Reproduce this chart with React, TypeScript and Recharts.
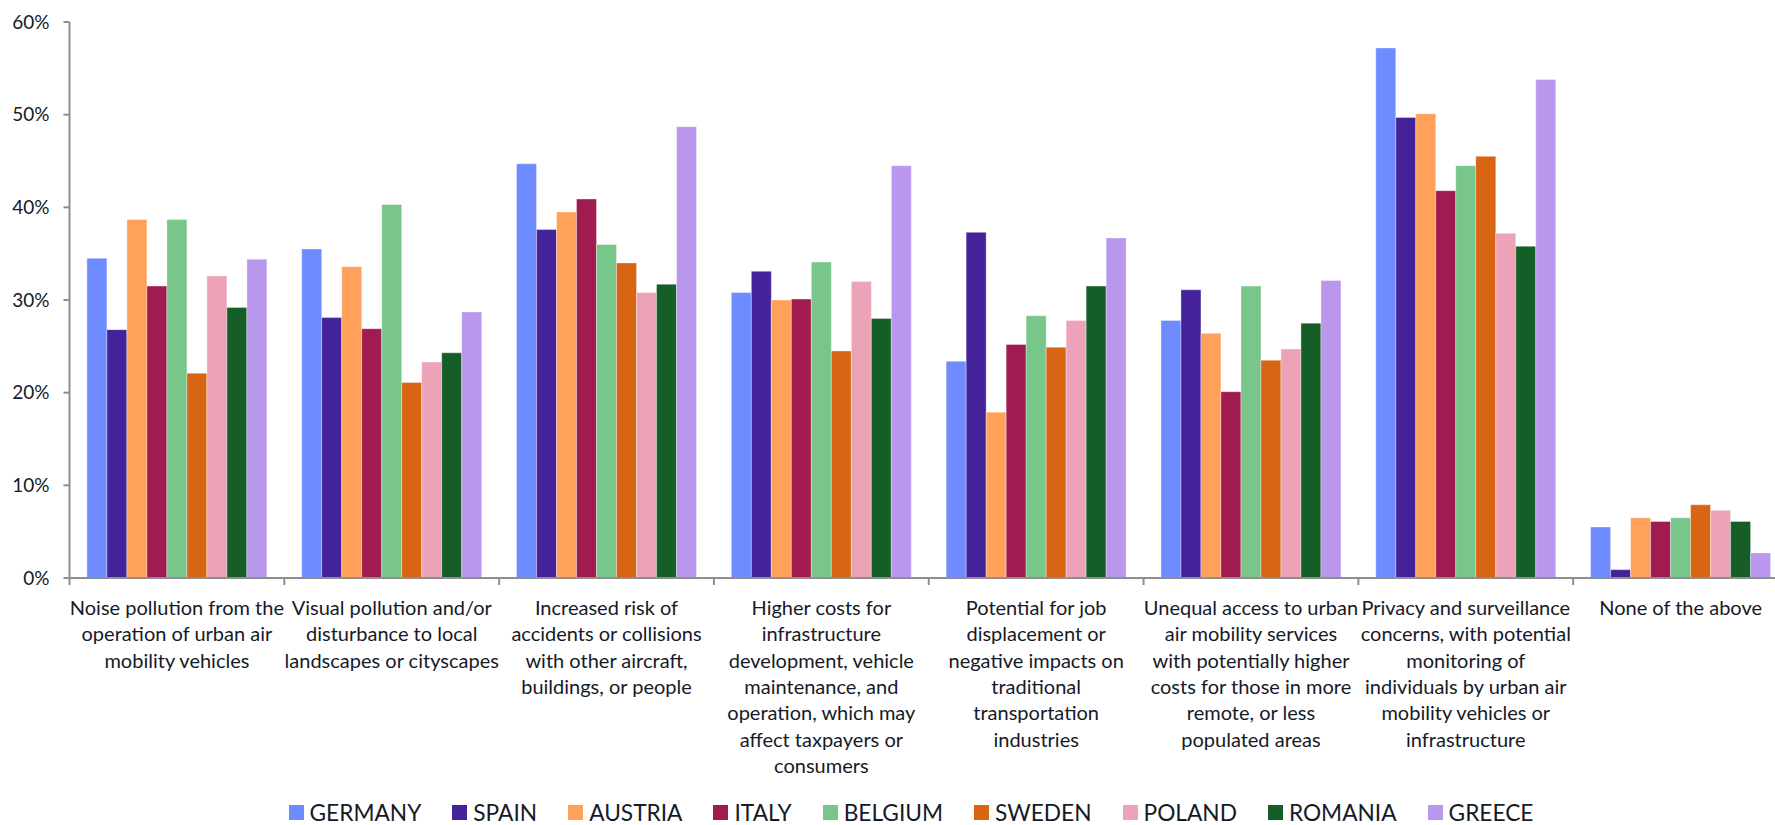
import React from "react";
import { BarChart, Bar, XAxis, YAxis } from "recharts";

// Survey answers (share of respondents, %) per concern, one list per country
const categories = [
  "Noise pollution from the\noperation of urban air\nmobility vehicles",
  "Visual pollution and/or\ndisturbance to local\nlandscapes or cityscapes",
  "Increased risk of\naccidents or collisions\nwith other aircraft,\nbuildings, or people",
  "Higher costs for\ninfrastructure\ndevelopment, vehicle\nmaintenance, and\noperation, which may\naffect taxpayers or\nconsumers",
  "Potential for job\ndisplacement or\nnegative impacts on\ntraditional\ntransportation\nindustries",
  "Unequal access to urban\nair mobility services\nwith potentially higher\ncosts for those in more\nremote, or less\npopulated areas",
  "Privacy and surveillance\nconcerns, with potential\nmonitoring of\nindividuals by urban air\nmobility vehicles or\ninfrastructure",
  "None of the above",
];

const germany = [34.5, 35.5, 44.7, 30.8, 23.4, 27.8, 57.2, 5.5];
const spain = [26.8, 28.1, 37.6, 33.1, 37.3, 31.1, 49.7, 0.9];
const austria = [38.7, 33.6, 39.5, 30.0, 17.9, 26.4, 50.1, 6.5];
const italy = [31.5, 26.9, 40.9, 30.1, 25.2, 20.1, 41.8, 6.1];
const belgium = [38.7, 40.3, 36.0, 34.1, 28.3, 31.5, 44.5, 6.5];
const sweden = [22.1, 21.1, 34.0, 24.5, 24.9, 23.5, 45.5, 7.9];
const poland = [32.6, 23.3, 30.8, 32.0, 27.8, 24.7, 37.2, 7.3];
const romania = [29.2, 24.3, 31.7, 28.0, 31.5, 27.5, 35.8, 6.1];
const greece = [34.4, 28.7, 48.7, 44.5, 36.7, 32.1, 53.8, 2.7];

const yTicks = [0, 10, 20, 30, 40, 50, 60];

const series = [
  { key: "GERMANY", values: germany, color: "#6E8CFF" },
  { key: "SPAIN", values: spain, color: "#44239A" },
  { key: "AUSTRIA", values: austria, color: "#FFA15B" },
  { key: "ITALY", values: italy, color: "#A01B4F" },
  { key: "BELGIUM", values: belgium, color: "#78C689" },
  { key: "SWEDEN", values: sweden, color: "#D86514" },
  { key: "POLAND", values: poland, color: "#ECA2B7" },
  { key: "ROMANIA", values: romania, color: "#155E27" },
  { key: "GREECE", values: greece, color: "#B997EC" },
];

const data = categories.map((name, i) => {
  const row: Record<string, string | number> = { name };
  series.forEach((s) => {
    row[s.key] = s.values[i];
  });
  return row;
});

const FONT = "Lato, 'Noto Sans', sans-serif";
const TEXT = "#151a28";
const AXIS = "#8e8e8e";

// Category label split on line breaks, plus a tick mark at the left edge of each band
function CategoryTick(props: any) {
  const { x, y, payload } = props;
  const half = payload && payload.offset ? payload.offset : 0;
  const lines = String(payload.value).split("\n");
  return (
    <g>
      <line x1={x - half} x2={x - half} y1={y} y2={y + 7} stroke={AXIS} strokeWidth={2} />
      {lines.map((line: string, i: number) => (
        <text
          key={i}
          x={x}
          y={y + 29 + i * 26.3}
          textAnchor="middle"
          dominantBaseline="central"
          fontFamily={FONT}
          fontSize={20}
          fill={TEXT}
        >
          {line}
        </text>
      ))}
    </g>
  );
}

function ChartLegend() {
  return (
    <div
      style={{
        position: "absolute",
        left: 0,
        top: 801,
        width: 1822,
        height: 23,
        display: "flex",
        justifyContent: "center",
        alignItems: "center",
        fontFamily: FONT,
        fontSize: 22.7,
        color: TEXT,
        whiteSpace: "nowrap",
      }}
    >
      {series.map((s, i) => (
        <div
          key={s.key}
          style={{ display: "flex", alignItems: "center", marginLeft: i === 0 ? 0 : 31 }}
        >
          <span
            style={{ display: "inline-block", width: 15, height: 15, background: s.color, marginRight: 6 }}
          />
          <span style={{ lineHeight: "23px" }}>{s.key}</span>
        </div>
      ))}
    </div>
  );
}

export default function App() {
  return (
    <div
      style={{
        position: "fixed",
        left: 0,
        top: 0,
        width: 1775,
        height: 825,
        overflow: "hidden",
        background: "#ffffff",
      }}
    >
      <BarChart
        width={1800}
        height={825}
        data={data}
        margin={{ top: 22, right: 12, bottom: 0, left: 0 }}
        barCategoryGap={17.4}
        barGap={0}
      >
        <YAxis
          width={69.5}
          domain={[0, 60]}
          ticks={yTicks}
          interval={0}
          tickFormatter={(v: number) => `${v}%`}
          axisLine={{ stroke: AXIS, strokeWidth: 2 }}
          tickLine={{ stroke: AXIS, strokeWidth: 2 }}
          tickSize={6}
          tickMargin={14}
          tick={{ fontFamily: FONT, fontSize: 19, fill: TEXT }}
        />
        <XAxis
          dataKey="name"
          height={247}
          interval={0}
          tickSize={0}
          tickMargin={0}
          tickLine={false}
          axisLine={{ stroke: AXIS, strokeWidth: 2 }}
          tick={<CategoryTick />}
        />
        {series.map((s) => (
          <Bar
            key={s.key}
            dataKey={s.key}
            fill={s.color}
            stroke="#ffffff"
            strokeOpacity={0.35}
            strokeWidth={1}
            isAnimationActive={false}
          />
        ))}
      </BarChart>
      <ChartLegend />
    </div>
  );
}
